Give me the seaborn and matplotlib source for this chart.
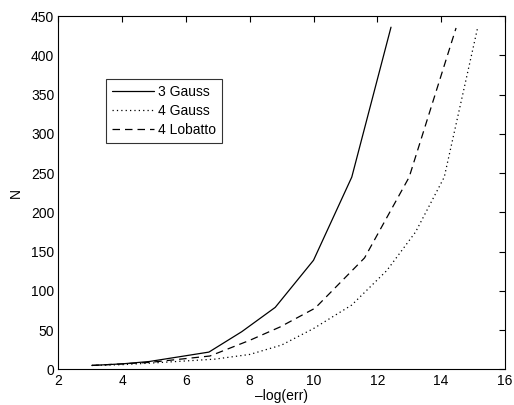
import numpy as np
import pandas as pd
import matplotlib
matplotlib.use('Agg')
import matplotlib.pyplot as plt
import seaborn as sns

sns.set_style('white')
plt.rcParams['font.family'] = ['Liberation Sans', 'DejaVu Sans']
plt.rcParams['text.color'] = 'black'
plt.rcParams['axes.labelcolor'] = 'black'
plt.rcParams['xtick.color'] = 'black'
plt.rcParams['ytick.color'] = 'black'

# ===== Data =====
gauss3_x = [3.05, 4.0, 4.85, 6.72, 7.75, 8.8, 10.0, 11.2, 12.43]
gauss3_n = [5, 7, 10, 22, 48, 79, 139, 245, 436]

gauss4_x = [3.05, 4.0, 4.9, 6.9, 8.0, 9.0, 10.0, 11.2, 12.3, 13.2, 14.1, 15.15]
gauss4_n = [5, 6, 8, 13, 19, 31, 52, 82, 126, 175, 245, 436]

lobatto4_x = [3.05, 4.0, 4.9, 6.75, 8.0, 8.95, 10.05, 11.6, 13.0, 14.47]
lobatto4_n = [5, 7, 9, 17, 37, 54, 78, 142, 245, 435]

series = [('3 Gauss', gauss3_x, gauss3_n, '-'),
          ('4 Gauss', gauss4_x, gauss4_n, (0, (1, 2.5))),
          ('4 Lobatto', lobatto4_x, lobatto4_n, (0, (6, 4)))]

# ===== Plot =====
fig = plt.figure(figsize=(5.14, 4.05), dpi=100)
ax = fig.add_axes([0.1136, 0.088, 0.8686, 0.872])

for name, xs, ns, ls in series:
    df = pd.DataFrame({'x': xs, 'N': ns})
    sns.lineplot(data=df, x='x', y='N', ax=ax, color='black', linewidth=0.9,
                 linestyle=ls, label=name, sort=False, estimator=None)

ax.set_xlim(2, 16)
ax.set_ylim(0, 450)
ax.set_xticks(np.arange(2, 17, 2))
ax.set_yticks(np.arange(0, 451, 50))
ax.set_xlabel('\u2013log(err)', fontsize=10, labelpad=1)
ax.set_ylabel('N', fontsize=10, labelpad=6)
ax.tick_params(direction='in', length=4, width=0.8, labelsize=10,
               top=True, right=True, pad=3)
for s in ax.spines.values():
    s.set_color('black')
    s.set_linewidth(0.8)

leg = ax.legend(loc='upper left', bbox_to_anchor=(0.107, 0.823), fontsize=10,
                frameon=True, fancybox=False, handlelength=3.0,
                handletextpad=0.3, borderpad=0.45, labelspacing=0.35,
                borderaxespad=0)
leg.get_frame().set_edgecolor('black')
leg.get_frame().set_linewidth(0.8)

fig.savefig('out.png', dpi=100)
